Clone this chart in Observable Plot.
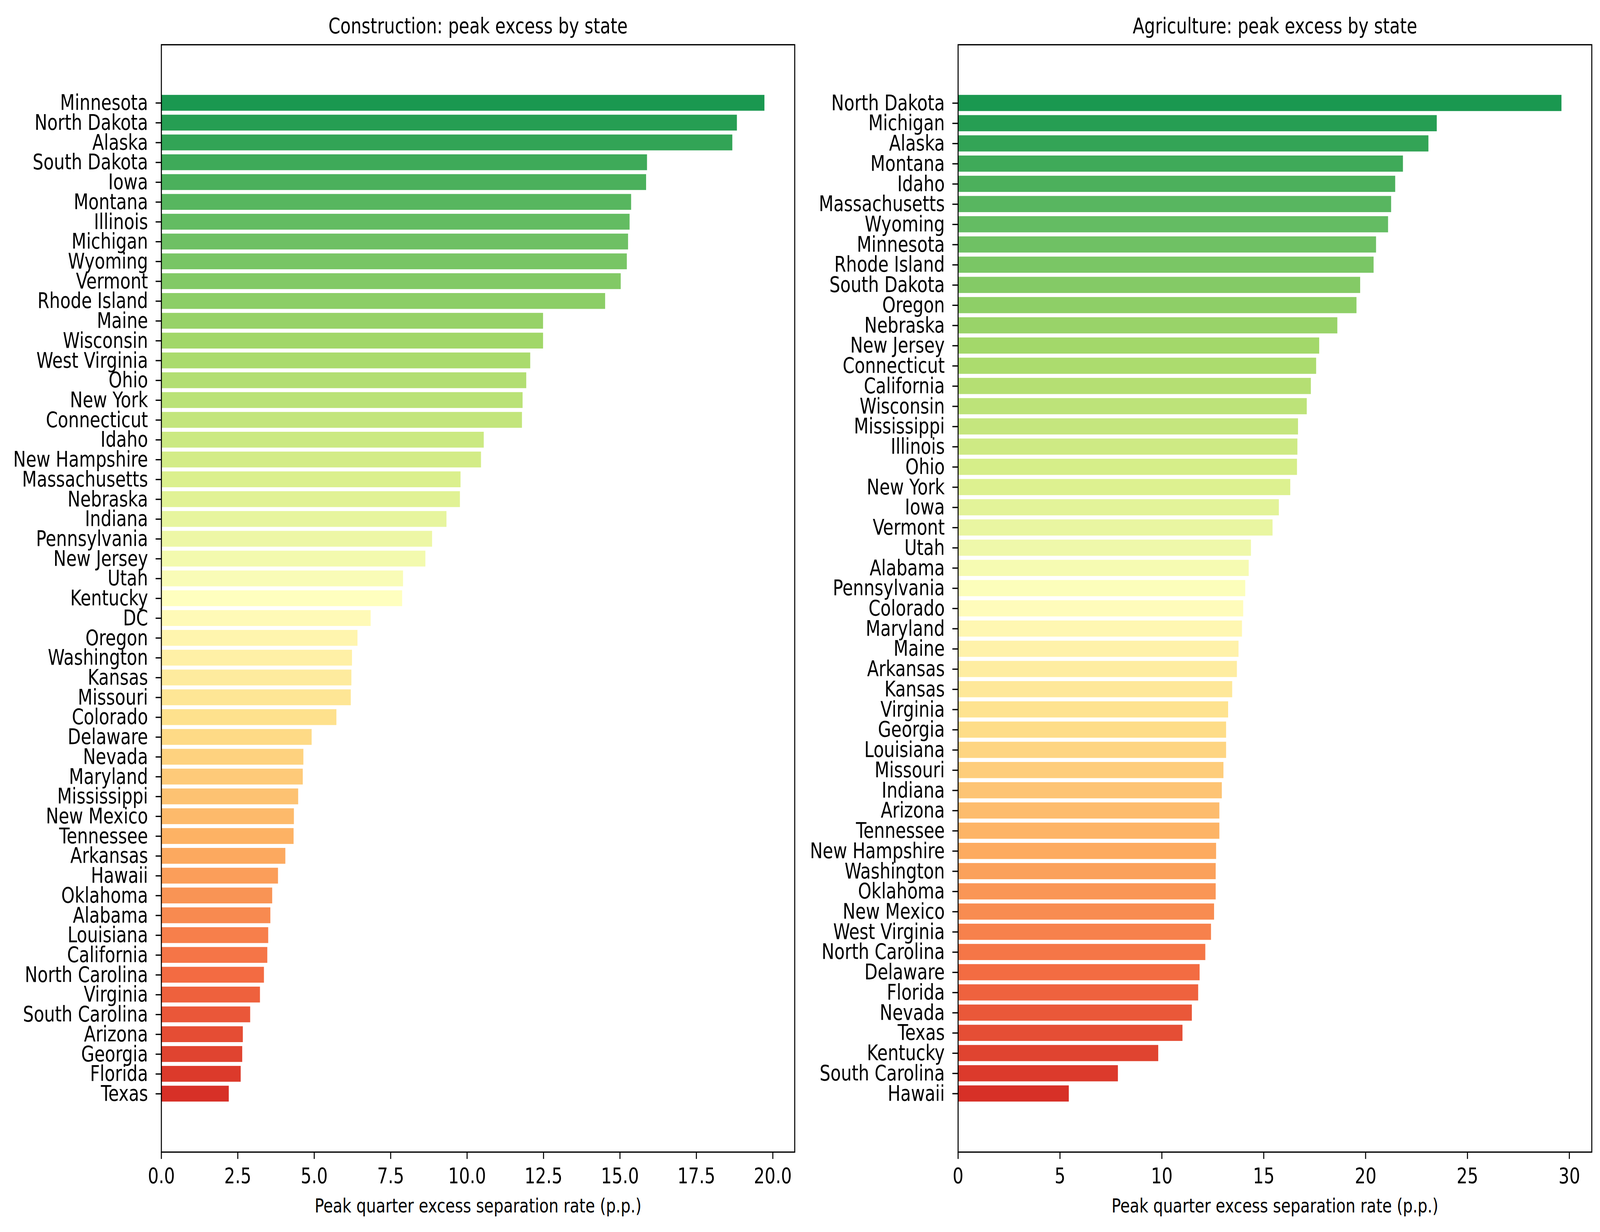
<!DOCTYPE html>
<html>
<head>
<meta charset="utf-8">
<script src="https://cdn.jsdelivr.net/npm/d3@7"></script>
<script src="https://cdn.jsdelivr.net/npm/@observablehq/plot@0.6"></script>
<style>
  html, body { margin: 0; padding: 0; background: white; overflow: hidden; }
  #wrap { display: flex; width: 5161px; height: 3153px; transform-origin: 0 0; font-family: "DejaVu Sans", sans-serif; }
  #wrap svg { display: block; flex: none; max-width: none; }
</style>
</head>
<body>
<div id="wrap"></div>
<script>
// ---- data (top to bottom) ----
const constructionStates = ["Minnesota","North Dakota","Alaska","South Dakota","Iowa","Montana","Illinois","Michigan","Wyoming","Vermont","Rhode Island","Maine","Wisconsin","West Virginia","Ohio","New York","Connecticut","Idaho","New Hampshire","Massachusetts","Nebraska","Indiana","Pennsylvania","New Jersey","Utah","Kentucky","DC","Oregon","Washington","Kansas","Missouri","Colorado","Delaware","Nevada","Maryland","Mississippi","New Mexico","Tennessee","Arkansas","Hawaii","Oklahoma","Alabama","Louisiana","California","North Carolina","Virginia","South Carolina","Arizona","Georgia","Florida","Texas"];
const constructionValues = [19.73,18.83,18.68,15.89,15.86,15.37,15.32,15.27,15.23,15.03,14.52,12.49,12.49,12.07,11.94,11.82,11.80,10.55,10.46,9.79,9.77,9.33,8.86,8.64,7.91,7.88,6.85,6.42,6.24,6.22,6.20,5.73,4.92,4.65,4.63,4.48,4.34,4.33,4.06,3.82,3.63,3.57,3.50,3.47,3.36,3.23,2.91,2.67,2.65,2.60,2.21];

const agricultureStates = ["North Dakota","Michigan","Alaska","Montana","Idaho","Massachusetts","Wyoming","Minnesota","Rhode Island","South Dakota","Oregon","Nebraska","New Jersey","Connecticut","California","Wisconsin","Mississippi","Illinois","Ohio","New York","Iowa","Vermont","Utah","Alabama","Pennsylvania","Colorado","Maryland","Maine","Arkansas","Kansas","Virginia","Georgia","Louisiana","Missouri","Indiana","Arizona","Tennessee","New Hampshire","Washington","Oklahoma","New Mexico","West Virginia","North Carolina","Delaware","Florida","Nevada","Texas","Kentucky","South Carolina","Hawaii"];
const agricultureValues = [29.62,23.50,23.09,21.84,21.46,21.26,21.11,20.52,20.40,19.74,19.56,18.62,17.73,17.58,17.32,17.12,16.69,16.66,16.64,16.31,15.75,15.44,14.38,14.27,14.10,14.00,13.94,13.77,13.69,13.46,13.26,13.16,13.16,13.03,12.95,12.83,12.83,12.67,12.65,12.65,12.57,12.42,12.14,11.86,11.79,11.48,11.02,9.83,7.85,5.44];

const constructionTicks = [0, 2.5, 5, 7.5, 10, 12.5, 15, 17.5, 20];
const agricultureTicks = [0, 5, 10, 15, 20, 25, 30];

const titles = ["Construction: peak excess by state", "Agriculture: peak excess by state"];
const xLabel = "Peak quarter excess separation rate (p.p.)";

// RdYlGn ramp, linear between the 11 ColorBrewer stops (as matplotlib)
const ramp = d3.piecewise(d3.interpolateRgb, d3.schemeRdYlGn[11]);

const FULL_W = 5161, FULL_H = 3153;

function panel(states, values, ticks, tickFmt, title, opts) {
  const n = states.length;
  const rows = states.map((s, i) => ({state: s, value: values[i], rank: n - 1 - i}));
  return Plot.plot({
    width: opts.width,
    height: FULL_H,
    marginLeft: opts.marginLeft,
    marginRight: opts.marginRight,
    marginTop: 114,
    marginBottom: 205,
    style: {fontFamily: "DejaVu Sans", fontSize: "55px", background: "transparent", overflow: "visible", color: "black"},
    x: {domain: [0, d3.max(values) * 1.05]},
    y: {type: "band", domain: states, paddingInner: 0.2, paddingOuter: 0.05 * (n - 0.2), align: 0.5, round: false},
    color: {type: "linear", domain: [0, n - 1], interpolate: t => ramp(0.1 + 0.8 * t)},
    marks: [
      Plot.barX(rows, {x: "value", y: "state", fill: "rank"}),
      Plot.frame({stroke: "black", strokeWidth: 3.3}),
      Plot.axisY({tickSize: 18, tickPadding: 25, strokeWidth: 3.3, fontSize: 55, label: null}),
      Plot.axisX({ticks: ticks, tickFormat: tickFmt, tickSize: 18, tickPadding: 22, strokeWidth: 3.3, fontSize: 55, label: null}),
      Plot.text([title], {frameAnchor: "top", dy: -30, lineAnchor: "bottom", fontSize: 55, fill: "black"}),
      Plot.text([xLabel], {frameAnchor: "bottom", dy: 154, lineAnchor: "bottom", fontSize: 50, fill: "black"})
    ]
  });
}

const wrap = document.getElementById("wrap");
wrap.appendChild(panel(constructionStates, constructionValues, constructionTicks, d3.format(".1f"), titles[0],
  {width: 2580, marginLeft: 520, marginRight: 17}));
wrap.appendChild(panel(agricultureStates, agricultureValues, agricultureTicks, d3.format("d"), titles[1],
  {width: 2581, marginLeft: 510, marginRight: 27}));

// fit the 5161×3153 layout to the actual window
function fit() {
  const sx = window.innerWidth / FULL_W, sy = window.innerHeight / FULL_H;
  wrap.style.transform = `scale(${sx}, ${sy})`;
}
fit();
window.addEventListener("resize", fit);
</script>
</body>
</html>
